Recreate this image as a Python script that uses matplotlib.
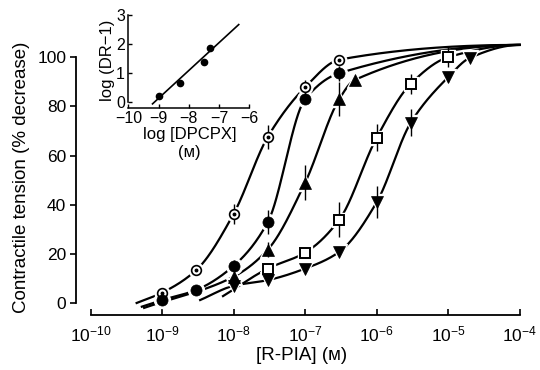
import numpy as np
import matplotlib
matplotlib.use("Agg")
import matplotlib.pyplot as plt

plt.rcParams["font.family"] = ["Liberation Sans", "DejaVu Sans"]
plt.rcParams["mathtext.fontset"] = "custom"
plt.rcParams["mathtext.rm"] = "Liberation Sans"
plt.rcParams["mathtext.it"] = "Liberation Sans:italic"

# concentration-response data, [R-PIA] (M) vs % decrease in contractile tension
CONC_CTRL = [1e-9, 3e-9, 1e-8, 3e-8, 1e-7, 3e-7]
RESP_CTRL = [4.2, 13.4, 36.3, 67.6, 87.8, 99.0]
SEM_CTRL = [0, 2, 4, 5, 3, 1.5]

CONC_D1 = [1e-9, 3e-9, 1e-8, 3e-8, 1e-7, 3e-7]
RESP_D1 = [1.2, 5.3, 15.1, 32.9, 83.0, 93.5]
SEM_D1 = [0, 0, 2.5, 5, 0, 3]

CONC_D2 = [1e-8, 3e-8, 1e-7, 3e-7, 4.9e-7]
RESP_D2 = [10.7, 21.7, 49.0, 83.0, 90.7]
SEM_D2 = [0, 3, 7, 7, 0]

CONC_D3 = [3e-8, 1e-7, 3e-7, 1e-6, 3e-6, 1e-5]
RESP_D3 = [14.0, 20.5, 33.9, 67.3, 89.2, 100.0]
SEM_D3 = [2, 2, 7, 5.5, 4, 4]

CONC_D4 = [1e-8, 3e-8, 1e-7, 3e-7, 1e-6, 3e-6, 1e-5, 2e-5]
RESP_D4 = [7.0, 9.3, 14.0, 20.8, 41.0, 73.4, 91.9, 99.7]
SEM_D4 = [0, 1.5, 1.5, 0, 6.5, 5.5, 2, 0]

# where each hand-drawn curve begins (conc, response) and the common plateau
CURVE_START = [(4.4e-10, 0.0), (5.2e-10, -1.5), (5.6e-10, -2.0), (7.1e-9, 2.8), (3.4e-9, 1.2)]
CURVE_END = 1e-4
PLATEAU = 105.0

# Schild plot inset
LOG_DPCPX = [-9.0, -8.3, -7.5, -7.3]
LOG_DR1 = [0.21, 0.66, 1.36, 1.86]
SCHILD_SLOPE = 0.96
PA2 = 9.12
SCHILD_RANGE = (-9.2, -6.35)


def pchip(xk, yk, xs):
    # monotone cubic through the knots, flat at the right end
    xk = np.asarray(xk, float); yk = np.asarray(yk, float)
    h = np.diff(xk); d = np.diff(yk) / h
    m = np.zeros_like(yk)
    m[0] = d[0]
    for k in range(1, len(xk) - 1):
        if d[k - 1] * d[k] > 0:
            w1 = 2 * h[k] + h[k - 1]; w2 = h[k] + 2 * h[k - 1]
            m[k] = (w1 + w2) / (w1 / d[k - 1] + w2 / d[k])
    m[-1] = 0.0
    i = np.clip(np.searchsorted(xk, xs) - 1, 0, len(h) - 1)
    t = (xs - xk[i]) / h[i]
    h00 = 2 * t**3 - 3 * t**2 + 1; h10 = t**3 - 2 * t**2 + t
    h01 = -2 * t**3 + 3 * t**2; h11 = t**3 - t**2
    return h00 * yk[i] + h10 * h[i] * m[i] + h01 * yk[i + 1] + h11 * h[i] * m[i + 1]


fig = plt.figure(figsize=(5.4, 3.7), dpi=100)
ax = fig.add_axes([0.1407, 0.1486, 0.835, 0.7433])

series = [
    (CONC_CTRL, RESP_CTRL, SEM_CTRL, dict(marker="o", ms=7, mfc="white", mec="black", mew=1.2)),
    (CONC_D1, RESP_D1, SEM_D1, dict(marker="o", ms=8, mfc="black", mec="black", mew=0.5)),
    (CONC_D2, RESP_D2, SEM_D2, dict(marker="^", ms=8, mfc="black", mec="black", mew=0.5)),
    (CONC_D3, RESP_D3, SEM_D3, dict(marker="s", ms=6.5, mfc="white", mec="black", mew=1.4)),
    (CONC_D4, RESP_D4, SEM_D4, dict(marker="v", ms=8, mfc="black", mec="black", mew=0.5)),
]

for (conc, resp, sem, style), (c0, r0) in zip(series, CURVE_START):
    xk = np.log10([c0] + list(conc) + [CURVE_END])
    yk = [r0] + list(resp) + [PLATEAU]
    xs = np.linspace(xk[0], xk[-1], 400)
    ax.plot(10**xs, pchip(xk, yk, xs), color="black", lw=1.6, zorder=2)

for conc, resp, sem, style in series:
    ax.plot(conc, resp, ls="none", marker=style["marker"], ms=style["ms"] + 3.5,
            mfc="white", mec="white", zorder=3)
    ax.errorbar(conc, resp, yerr=sem, fmt="none", ecolor="black", elinewidth=1.0,
                capsize=0, zorder=4)
    ax.plot(conc, resp, ls="none", zorder=5, **style)
    if style["mfc"] == "white" and style["marker"] == "o":
        ax.plot(conc, resp, ls="none", marker="o", ms=1.8, color="black", zorder=6)

ax.set_xscale("log")
ax.set_xlim(10**-10.205, 10**-3.9)
ax.set_ylim(-4.9, 107)
ax.set_xticks([1e-10, 1e-9, 1e-8, 1e-7, 1e-6, 1e-5, 1e-4])
ax.xaxis.set_minor_locator(matplotlib.ticker.NullLocator())
ax.set_yticks([0, 20, 40, 60, 80, 100])
for s in ("top", "right"):
    ax.spines[s].set_visible(False)
ax.spines["left"].set_bounds(0, 100)
ax.spines["bottom"].set_bounds(1e-10, 1e-4)
ax.spines["left"].set_linewidth(1.3)
ax.spines["bottom"].set_linewidth(1.3)
ax.tick_params(axis="x", direction="in", length=4, width=1.2, labelsize=12.5, pad=7)
ax.tick_params(axis="y", direction="out", length=4, width=1.2, labelsize=12.5, pad=3)
ax.set_xlabel("[R-PIA] (ᴍ)", fontsize=13.5, labelpad=2)
ax.set_ylabel("Contractile tension (% decrease)", fontsize=13.5, labelpad=5)
ax.patch.set_alpha(0)

# inset: Schild plot
ins = fig.add_axes([0.2365, 0.7073, 0.228, 0.2569])
ins.patch.set_alpha(0)
ins.plot(LOG_DPCPX, LOG_DR1, "o", color="black", ms=4.5)
lx = np.array(SCHILD_RANGE)
ins.plot(lx, SCHILD_SLOPE * (lx + PA2), color="black", lw=1.2)
ins.set_xlim(-10.02, -5.95)
ins.set_ylim(-0.23, 3.05)
ins.set_xticks([-10, -9, -8, -7, -6])
ins.set_yticks([0, 1, 2, 3])
for s in ("top", "right"):
    ins.spines[s].set_visible(False)
ins.spines["left"].set_bounds(0, 3)
ins.spines["bottom"].set_bounds(-10, -6)
ins.spines["left"].set_linewidth(1.1)
ins.spines["bottom"].set_linewidth(1.1)
ins.tick_params(direction="in", length=3, width=1.0, labelsize=11.5, pad=2)
ins.set_xlabel("log [DPCPX]\n(ᴍ)", fontsize=12, labelpad=1, linespacing=1.25)
ins.set_ylabel("log (DR\u22121)", fontsize=12, labelpad=1)

fig.savefig("out.png", dpi=100)
